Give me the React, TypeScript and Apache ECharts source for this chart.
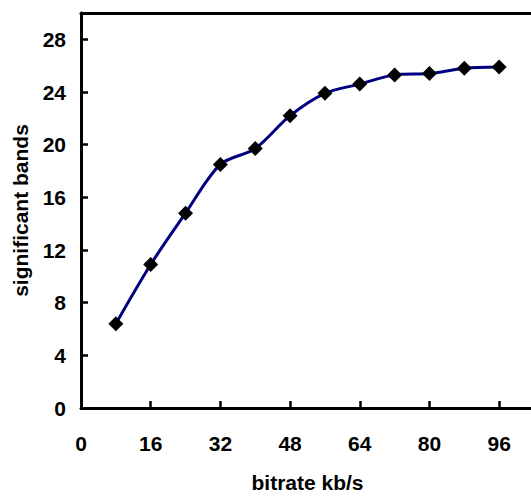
import React, { useEffect, useRef } from "react";
import * as echarts from "echarts";

const bitrates = [8, 16, 24, 32, 40, 48, 56, 64, 72, 80, 88, 96];
const bands = [6.4, 10.9, 14.8, 18.5, 19.7, 22.2, 23.9, 24.6, 25.3, 25.4, 25.8, 25.9];
const xTickValues = [0, 16, 32, 48, 64, 80, 96];
const yTickValues = [0, 4, 8, 12, 16, 20, 24, 28];
const xTitle = "bitrate kb/s";
const yTitle = "significant bands";

const FONT = "'Liberation Sans', Arial, sans-serif";

export default function App() {
  const ref = useRef<HTMLDivElement>(null);
  useEffect(() => {
    if (!ref.current) return;
    const chart = echarts.init(ref.current, null, { renderer: "svg" });
    const labelStyle = {
      fontFamily: FONT,
      fontWeight: "bold" as const,
      fontSize: 21,
      color: "#000",
    };
    chart.setOption({
      animation: false,
      backgroundColor: "#fff",
      grid: { left: 81, right: 0, top: 13, bottom: 81.5, containLabel: false },
      xAxis: [
        {
          type: "value",
          min: 0,
          max: 104,
          interval: 16,
          position: "bottom",
          name: xTitle,
          nameLocation: "middle",
          nameGap: 64,
          nameTextStyle: labelStyle,
          axisLine: { show: true, onZero: false, lineStyle: { color: "#000", width: 3 } },
          axisTick: { show: true, inside: true, length: 7, lineStyle: { color: "#000", width: 2.5 } },
          axisLabel: {
            ...labelStyle,
            margin: 25,
            showMaxLabel: false,
            formatter: (v: number) => (xTickValues.includes(v) ? String(v) : ""),
          },
          splitLine: { show: false },
        },
        {
          type: "value",
          min: 0,
          max: 104,
          position: "top",
          axisLine: { show: true, onZero: false, lineStyle: { color: "#000", width: 3 } },
          axisTick: { show: false },
          axisLabel: { show: false },
          splitLine: { show: false },
        },
      ],
      yAxis: {
        type: "value",
        min: 0,
        max: 30,
        interval: 4,
        name: yTitle,
        nameLocation: "middle",
        nameGap: 50,
        nameTextStyle: labelStyle,
        axisLine: { show: true, lineStyle: { color: "#000", width: 3 } },
        axisTick: { show: true, inside: true, length: 7, lineStyle: { color: "#000", width: 2.5 } },
        axisLabel: {
          ...labelStyle,
          margin: 15,
          showMaxLabel: false,
          formatter: (v: number) => (yTickValues.includes(v) ? String(v) : ""),
        },
        splitLine: { show: false },
      },
      series: [
        {
          type: "line",
          xAxisIndex: 0,
          data: bitrates.map((x, i) => [x, bands[i]]),
          smooth: 0.3,
          lineStyle: { color: "#000080", width: 3 },
          symbol: "diamond",
          symbolSize: 15,
          itemStyle: { color: "#000", borderWidth: 0 },
        },
      ],
    });
    return () => chart.dispose();
  }, []);
  return (
    <div
      style={{
        position: "fixed",
        left: 0,
        top: 0,
        width: 531,
        height: 498,
        overflow: "hidden",
        background: "#fff",
      }}
    >
      <div ref={ref} style={{ width: 534, height: 498 }} />
    </div>
  );
}
